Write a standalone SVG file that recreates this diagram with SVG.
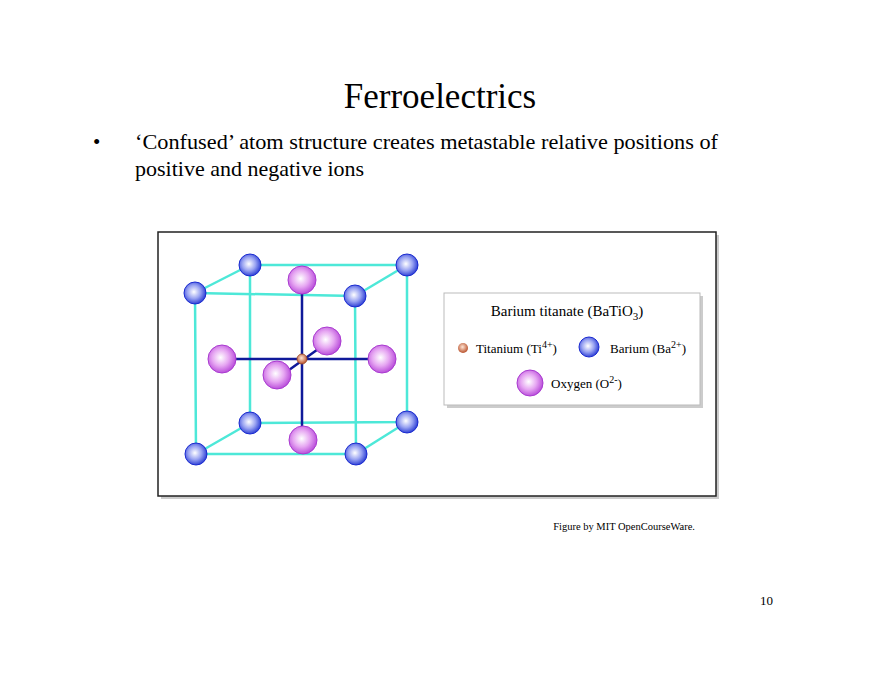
<svg xmlns="http://www.w3.org/2000/svg" width="880" height="680" viewBox="0 0 880 680">
<defs>
<radialGradient id="gb" cx="0.45" cy="0.45" r="0.6"><stop offset="0" stop-color="#ffffff"/><stop offset="0.5" stop-color="#9aa4f2"/><stop offset="1" stop-color="#1c2fd0"/></radialGradient>
<radialGradient id="gp" cx="0.45" cy="0.45" r="0.6"><stop offset="0" stop-color="#ffffff"/><stop offset="0.5" stop-color="#e6a6f2"/><stop offset="1" stop-color="#b23fd6"/></radialGradient>
<radialGradient id="gt" cx="0.45" cy="0.4" r="0.6"><stop offset="0" stop-color="#ffe6d6"/><stop offset="1" stop-color="#b8502a"/></radialGradient>
<style>
.t{font-family:"Liberation Serif",serif;fill:#000}
.c{stroke:#4de8d8;stroke-width:2.5;fill:none}
.d{stroke:#101a9a;stroke-width:2.5;fill:none}
.ba{fill:url(#gb);stroke:#1a2ad0;stroke-width:1}
.ox{fill:url(#gp);stroke:#a93ad0;stroke-width:1}
</style>
</defs>
<rect width="880" height="680" fill="#fff"/>
<text class="t" x="440" y="108" font-size="35" text-anchor="middle">Ferroelectrics</text>
<text class="t" x="93" y="149" font-size="21">•</text>
<text class="t" x="135" y="149" font-size="22" textLength="583" lengthAdjust="spacingAndGlyphs">‘Confused’ atom structure creates metastable relative positions of</text>
<text class="t" x="135" y="176" font-size="22">positive and negative ions</text>
<rect x="161" y="235" width="558" height="264" fill="#ccc"/>
<rect x="158" y="232" width="558" height="264" fill="#fff" stroke="#222" stroke-width="1.5"/>
<g id="connectors">
<path class="c" d="M195 293 L355 296 L356 454 L196 454 Z"/>
<path class="c" d="M250 265 L407 265 L407 422 L250 423 Z"/>
<path class="c" d="M195 293 L250 265 M355 296 L407 265 M356 454 L407 422 M196 454 L250 423"/>
<path class="d" d="M302 294 V426 M230 359 H375 M289 370 L321 347"/>
</g>
<g id="barium">
<circle class="ba" cx="250" cy="265" r="11"/><circle class="ba" cx="407" cy="265" r="11"/>
<circle class="ba" cx="195" cy="293" r="11"/><circle class="ba" cx="355" cy="296" r="11"/>
<circle class="ba" cx="250" cy="423" r="11"/><circle class="ba" cx="407" cy="422" r="11"/>
<circle class="ba" cx="196" cy="454" r="11"/><circle class="ba" cx="356" cy="454" r="11"/>
</g>
<g id="oxygen">
<circle class="ox" cx="302" cy="280" r="14"/><circle class="ox" cx="222" cy="359" r="14"/>
<circle class="ox" cx="382" cy="359" r="14"/><circle class="ox" cx="327" cy="341" r="14"/>
<circle class="ox" cx="277" cy="375" r="14"/><circle class="ox" cx="303" cy="440" r="14"/>
</g>
<g id="titanium"><circle cx="302" cy="359" r="5" fill="url(#gt)" stroke="#9a4a2a" stroke-width="0.8"/></g>
<g id="legend">
<rect x="447" y="296" width="256" height="112" fill="#ccc"/>
<rect x="444" y="293" width="256" height="112" fill="#fff" stroke="#bbb"/>
<text class="t" x="567" y="316" font-size="15" text-anchor="middle">Barium titanate (BaTiO<tspan font-size="11" dy="4">3</tspan><tspan dy="-4">)</tspan></text>
<circle cx="463" cy="348" r="5" fill="url(#gt)"/>
<text class="t" x="476" y="353" font-size="13">Titanium (Ti<tspan font-size="10" dy="-5">4+</tspan><tspan dy="5">)</tspan></text>
<circle class="ba" cx="589" cy="347" r="10"/>
<text class="t" x="610" y="353" font-size="13">Barium (Ba<tspan font-size="10" dy="-5">2+</tspan><tspan dy="5">)</tspan></text>
<circle class="ox" cx="530" cy="383" r="13"/>
<text class="t" x="551" y="388" font-size="13">Oxygen (O<tspan font-size="10" dy="-5">2-</tspan><tspan dy="5">)</tspan></text>
</g>
<text class="t" x="695" y="530" font-size="10.5" text-anchor="end">Figure by MIT OpenCourseWare.</text>
<text class="t" x="773" y="605" font-size="13" text-anchor="end">10</text>
</svg>
